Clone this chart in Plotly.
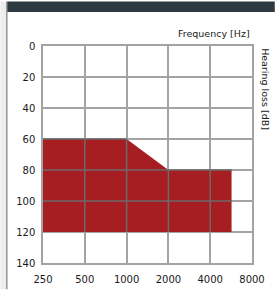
import numpy as np
import plotly.graph_objects as go

# Data
freq_ticks = [250, 500, 1000, 2000, 4000, 8000]
freq_labels = ["250", "500", "1000", "2000", "4000", "8000"]
db_ticks = [0, 20, 40, 60, 80, 100, 120, 140]

# Hearing-loss region: upper boundary (top) and lower boundary (bottom)
region_freq_top = [250, 1000, 2000, 5700]
region_db_top = [60, 60, 80, 80]
region_db_bottom = 120

RED = "#a61e22"
GRID = "#a3a3a3"
GRID_IN = "#6e6a6a"
TXT = "#1a1a1a"
FONT = "DejaVu Sans"

fig = go.Figure()

# filled region polygon
xs = region_freq_top + [region_freq_top[-1], region_freq_top[0], region_freq_top[0]]
ys = region_db_top + [region_db_bottom, region_db_bottom, region_db_top[0]]
fig.add_trace(go.Scatter(x=xs, y=ys, fill="toself", fillcolor=RED, mode="lines",
                         line=dict(width=0, color=RED), hoverinfo="skip", showlegend=False))

# grid lines inside the region drawn above the fill
lf = np.log10(region_freq_top)
shapes = []
for f in freq_ticks:
    if region_freq_top[0] < f < region_freq_top[-1]:
        top = float(np.interp(np.log10(f), lf, region_db_top))
        shapes.append(dict(type="line", xref="x", yref="y", x0=f, x1=f, y0=top, y1=region_db_bottom,
                           line=dict(color=GRID_IN, width=1.5), layer="above"))
for d in db_ticks:
    if min(region_db_top) <= d < region_db_bottom:
        x0 = region_freq_top[0]
        if d < max(region_db_top):
            idx = [i for i, v in enumerate(region_db_top) if v <= d]
            x1 = region_freq_top[idx[-1]]
        else:
            x1 = region_freq_top[-1]
        shapes.append(dict(type="line", xref="x", yref="y", x0=x0, x1=x1, y0=d, y1=d,
                           line=dict(color=GRID_IN, width=1.5), layer="above"))

# page decorations: left gray strip and top dark bar (paper coordinates)
W, H = 277, 297
L, R, T, B = 43, 23, 46, 27
pw, ph = W - L - R, H - T - B
def px(x): return (x - L) / pw
def py(y): return (H - B - y) / ph
shapes += [
    dict(type="rect", xref="paper", yref="paper", x0=px(0), x1=px(6), y0=py(H), y1=py(0),
         fillcolor="#ededed", line=dict(width=0), layer="below"),
    dict(type="line", xref="paper", yref="paper", x0=px(6.5), x1=px(6.5), y0=py(H), y1=py(0),
         line=dict(color="#7a7a7a", width=1.2)),
    dict(type="rect", xref="paper", yref="paper", x0=px(7), x1=px(W), y0=py(11), y1=py(0),
         fillcolor="#2e3a42", line=dict(width=0)),
]

fig.update_layout(
    width=W, height=H,
    margin=dict(l=L, r=R, t=T, b=B),
    paper_bgcolor="white", plot_bgcolor="white",
    font=dict(family=FONT, size=10, color=TXT),
    shapes=shapes,
    showlegend=False,
    xaxis=dict(type="log", range=[np.log10(freq_ticks[0]), np.log10(freq_ticks[-1])],
               tickvals=freq_ticks, ticktext=freq_labels, showgrid=True, gridcolor=GRID, gridwidth=1.5,
               showline=True, linecolor=GRID, linewidth=1.5, mirror=True, ticks="", ticklen=0,
               ticklabelstandoff=6,
               tickfont=dict(size=10, color=TXT), zeroline=False, fixedrange=True),
    yaxis=dict(range=[db_ticks[-1], db_ticks[0]], tickvals=db_ticks, showgrid=True, gridcolor=GRID,
               gridwidth=1.5, showline=True, linecolor=GRID, linewidth=1.5, mirror=True, ticks="",
               ticklen=0, ticklabelstandoff=4,
               tickfont=dict(size=10, color=TXT), zeroline=False, fixedrange=True),
    annotations=[
        dict(text="Frequency [Hz]", xref="paper", yref="paper", x=1, y=py(33), xanchor="right",
             yanchor="middle", showarrow=False, font=dict(size=9.5, color=TXT, family=FONT)),
        dict(text="Hearing loss [dB]", xref="paper", yref="paper", x=px(268), y=1, xanchor="center",
             yanchor="top", textangle=90, showarrow=False, font=dict(size=9.5, color=TXT, family=FONT)),
    ],
)

fig.write_html("out.html", config={"displayModeBar": False},
               post_script="document.body.style.margin='0';document.body.style.overflow='hidden';")
